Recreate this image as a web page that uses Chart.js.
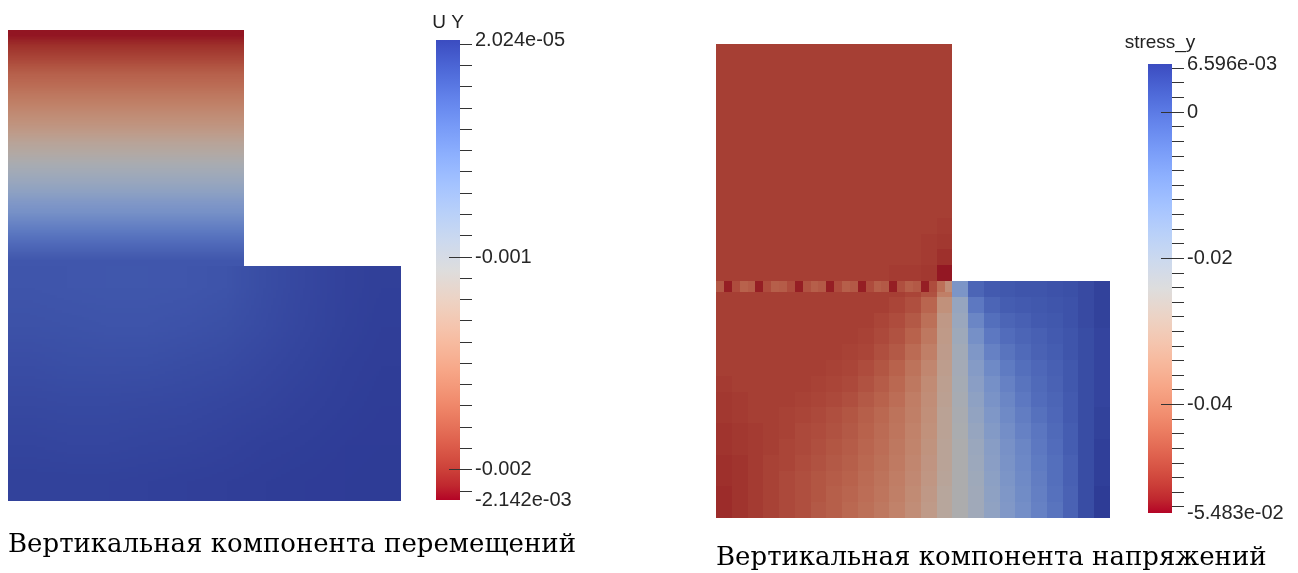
<!DOCTYPE html>
<html>
<head>
<meta charset="utf-8">
<script src="https://cdn.jsdelivr.net/npm/chart.js@4.4.1/dist/chart.umd.min.js"></script>
<style>
  html, body { margin: 0; padding: 0; background: #fff; }
  #page { position: relative; width: 1298px; height: 573px; overflow: hidden; }
  #page canvas { position: absolute; top: 0; }
  .caption {
    position: absolute;
    font-family: 'DejaVu Serif', serif;
    font-size: 26px;
    line-height: 26px;
    white-space: nowrap;
    color: #000;
  }
</style>
</head>
<body>
<div id="page">
  <canvas id="fieldUy" width="420" height="573" style="left:0px"></canvas>
  <canvas id="barUy" width="249" height="573" style="left:400px"></canvas>
  <canvas id="fieldSy" width="450" height="573" style="left:680px"></canvas>
  <canvas id="barSy" width="188" height="573" style="left:1110px"></canvas>
  <div class="caption" style="left:8px; top:530px">Вертикальная компонента перемещений</div>
  <div class="caption" style="left:716px; top:543px">Вертикальная компонента напряжений</div>
</div>
<script>
// ---- U Y (vertical displacement), values stored in units of 1e-4 ----
const UY_UNIT = 1e-4;
const uyRange = [-2.142e-3, 2.024e-5];
const uyRangeLabels = ['-2.142e-03', '2.024e-05'];
const uyMajorTicks = [-0.001, -0.002];
const uyMajorLabels = ['-0.001', '-0.002'];
const uyMinorStep = 1e-4;

// upper block (x 0..3, y 3..6): one value per row, top row first
const uyUpper = [
  -21.0, -20.1, -19.3, -18.4, -17.5, -16.9, -16.1, -15.4, -14.6, -13.9, -13.0, -12.0,
  -11.2, -10.3, -9.4, -8.6, -7.7, -6.7, -5.9, -4.9, -3.9, -3.0, -2.2, -1.5
];
// lower block (x 0..5, y 0..3): 6 rows x 10 columns, top row first
const uyLower = [
  [-1.42, -1.48, -1.53, -1.53, -1.48, -1.35, -0.88, -0.55, -0.23, -0.06],
  [-1.20, -1.27, -1.31, -1.31, -1.22, -1.05, -0.77, -0.45, -0.19, -0.01],
  [-0.92, -0.99, -1.01, -0.99, -0.88, -0.75, -0.53, -0.32, -0.10, 0.05],
  [-0.66, -0.70, -0.70, -0.66, -0.60, -0.49, -0.34, -0.17, -0.01, 0.09],
  [-0.40, -0.45, -0.45, -0.40, -0.34, -0.23, -0.12, -0.01, 0.07, 0.14],
  [-0.19, -0.19, -0.19, -0.15, -0.10, -0.04, 0.03, 0.09, 0.14, 0.18]
];

// ---- stress_y, values stored in units of 1e-3 ----
const SY_UNIT = 1e-3;
const syRange = [-5.483e-2, 6.596e-3];
const syRangeLabels = ['-5.483e-02', '6.596e-03'];
const syMajorTicks = [0, -0.02, -0.04];
const syMajorLabels = ['0', '-0.02', '-0.04'];
const syMinorStep = 2e-3;

// upper block (x 0..3, y 3..6): 15 x 15 cells, top row first
const syUpper = [
  [-49, -49, -49, -49, -49, -49, -49, -49, -49, -49, -49, -49, -49, -49, -49],
  [-49, -49, -49, -49, -49, -49, -49, -49, -49, -49, -49, -49, -49, -49, -49],
  [-49, -49, -49, -49, -49, -49, -49, -49, -49, -49, -49, -49, -49, -49, -49],
  [-49, -49, -49, -49, -49, -49, -49, -49, -49, -49, -49, -49, -49, -49, -49],
  [-49, -49, -49, -49, -49, -49, -49, -49, -49, -49, -49, -49, -49, -49, -49],
  [-49, -49, -49, -49, -49, -49, -49, -49, -49, -49, -49, -49, -49, -49, -49],
  [-49, -49, -49, -49, -49, -49, -49, -49, -49, -49, -49, -49, -49, -49, -49],
  [-49, -49, -49, -49, -49, -49, -49, -49, -49, -49, -49, -49, -49, -49, -49],
  [-49, -49, -49, -49, -49, -49, -49, -49, -49, -49, -49, -49, -49, -49, -49],
  [-49, -49, -49, -49, -49, -49, -49, -49, -49, -49, -49, -49, -49, -49, -49],
  [-49, -49, -49, -49, -49, -49, -49, -49, -49, -49, -49, -49, -49, -49, -49],
  [-49, -49, -49, -49, -49, -49, -49, -49, -49, -49, -49, -49, -49, -49, -49.5],
  [-49, -49, -49, -49, -49, -49, -49, -49, -49, -49, -49, -49, -49, -49.5, -50],
  [-49, -49, -49, -49, -49, -49, -49, -49, -49, -49, -49, -49, -49, -49.5, -51],
  [-49, -49, -49, -49, -49, -49, -49, -49, -49, -49, -49, -49.5, -49.5, -50, -53.5]
];
// thin row of cells just under the step (x 0..3)
const sySeam = [
  -45, -53, -47, -43.5, -44.5, -53, -47, -44, -44.5, -47,
  -53, -46, -44, -45, -53, -47, -44, -45, -53, -47,
  -44, -45, -53, -46.5, -44, -45, -53, -47, -41, -35
];
// lower block (x 0..5, y 0..3): 15 rows x 25 columns, top row first
const syLower = [
  [-49, -49, -49, -49, -49, -49, -49, -49, -49, -49, -49, -49, -48, -46, -38, -12, -1, 1, 1.5, 2, 2, 2.5, 3, 4, 5.5],
  [-49, -49, -49, -49, -49, -49, -49, -49, -49, -49, -49, -48, -46.5, -43, -34, -18, -5, -1, 0.5, 1, 1.5, 2, 2.5, 4, 5.5],
  [-49, -49, -49, -49, -49, -49, -49, -49, -49, -49, -48, -47, -45, -41, -32, -19, -8, -3, -1, 0, 1, 1.5, 2.5, 4, 5.5],
  [-49, -49, -49, -49, -49, -49, -49, -49, -49, -48.5, -47.5, -46, -43.5, -39.5, -31.5, -20, -10.5, -5, -2.5, -1, 0, 1, 2, 3.5, 5],
  [-49, -49, -49, -49, -49, -49, -49, -49, -48.5, -48, -46.5, -45, -42, -38, -31, -21, -12.5, -7, -4, -2, -0.5, 0.5, 2, 3.5, 5],
  [-49, -49, -49, -49, -49, -49, -49, -48.5, -48, -47, -45.5, -43.5, -40.5, -36.5, -30.5, -21.5, -14, -9, -5.5, -3, -1.5, 0, 1.5, 3.5, 5],
  [-49.5, -49, -49, -49, -49, -49, -48.5, -48, -47.5, -46, -44.5, -42.5, -39.5, -35.5, -30, -22, -15, -10.5, -7, -4, -2, -0.5, 1.5, 3.5, 5],
  [-50, -49.5, -49, -49, -49, -48.5, -48, -47.5, -46.5, -45, -43.5, -41.5, -38.5, -35, -29.5, -22.5, -16, -11.5, -8, -5, -2.5, -1, 1, 3.5, 5],
  [-50, -49.5, -49, -49, -48.5, -48, -47.5, -46.5, -45.5, -44, -42.5, -40.5, -38, -34.5, -29, -23, -17, -12.5, -9, -6, -3.5, -1.5, 1, 3.5, 5.5],
  [-50.5, -50, -49.5, -49, -48.5, -47.5, -47, -46, -45, -43.5, -42, -40, -37.5, -34, -29, -23.5, -18, -13.5, -10, -7, -4.5, -2, 0.5, 3.5, 5.5],
  [-50.5, -50, -49.5, -49, -48, -47.5, -46.5, -45.5, -44.5, -43, -41.5, -39.5, -37, -33.5, -28.5, -24, -19, -14.5, -11, -8, -5, -2.5, 0.5, 3.5, 6],
  [-51, -50.5, -49.5, -48.5, -48, -47, -46, -45, -44, -42.5, -41, -39, -36.5, -33, -28.5, -24, -19.5, -15, -11.5, -8.5, -5.5, -3, 0, 3.5, 6],
  [-51, -50.5, -49.5, -48.5, -47.5, -46.5, -45.5, -44.5, -43.5, -42, -40.5, -38.5, -36, -32.5, -28, -24, -20, -15.5, -12, -9, -6, -3, 0, 3.5, 6],
  [-51.5, -50.5, -49.5, -48.5, -47.5, -46.5, -45.5, -44, -43, -41.5, -40, -38, -35.5, -32, -27.5, -24, -20.5, -16, -12.5, -9.5, -6.5, -3.5, -0.5, 3.5, 6.5],
  [-51.5, -50.5, -49.5, -48.5, -47.5, -46.5, -45, -44, -42.5, -41, -39.5, -37.5, -35, -31.5, -27.5, -24, -20.5, -16.5, -13, -10, -7, -4, -0.5, 3.5, 6.5]
];

// cool-to-warm diverging map, 33 evenly spaced stops (blue end first)
const coolWarm = [
  [59, 76, 192], [68, 90, 204], [77, 104, 215], [87, 117, 225], [98, 130, 234],
  [108, 142, 241], [119, 154, 247], [130, 165, 251], [141, 176, 254], [152, 185, 255],
  [163, 194, 255], [174, 201, 253], [184, 208, 249], [194, 213, 244], [204, 217, 238],
  [213, 219, 230], [221, 221, 221], [229, 216, 209], [236, 211, 197], [241, 204, 185],
  [245, 196, 173], [247, 187, 160], [247, 177, 148], [247, 166, 135], [244, 154, 123],
  [241, 141, 111], [236, 127, 99], [229, 112, 88], [222, 96, 77], [213, 80, 66],
  [203, 62, 56], [192, 40, 47], [180, 4, 38]
];
// surfaces are lit, so they come out darker than the legend bar
const SHADE = 0.78;

Chart.defaults.font.family = "'Liberation Sans', Arial, sans-serif";

function coolWarmAt(t) {
  t = Math.min(1, Math.max(0, t));
  const p = t * (coolWarm.length - 1);
  const i = Math.min(coolWarm.length - 2, Math.floor(p));
  const f = p - i;
  return coolWarm[i].map((c, k) => c + (coolWarm[i + 1][k] - c) * f);
}

function litColor(t) {
  const [r, g, b] = coolWarmAt(t).map(c => Math.round(c * SHADE));
  return `rgb(${r},${g},${b})`;
}

// one block of the mesh: flat cells, or a smoothly shaded image of the nodal values
function paintBlock(ctx, b, x, y, colorOf) {
  const rows = b.values.length;
  const cols = b.values[0].length;
  if (b.smooth) {
    // values go into a small bitmap (with a copied 1px rim) that the canvas scales up
    const off = document.createElement('canvas');
    off.width = cols + 2;
    off.height = rows + 2;
    const octx = off.getContext('2d');
    for (let r = -1; r <= rows; r++) {
      for (let c = -1; c <= cols; c++) {
        const rr = Math.min(rows - 1, Math.max(0, r));
        const cc = Math.min(cols - 1, Math.max(0, c));
        octx.fillStyle = colorOf(b.values[rr][cc]);
        octx.fillRect(c + 1, r + 1, 1, 1);
      }
    }
    const x0 = Math.round(x.getPixelForValue(b.left));
    const x1 = Math.round(x.getPixelForValue(b.left + cols * b.dx));
    const y0 = Math.round(y.getPixelForValue(b.top));
    const y1 = Math.round(y.getPixelForValue(b.top - rows * b.dy));
    ctx.imageSmoothingEnabled = true;
    ctx.imageSmoothingQuality = 'low';
    ctx.drawImage(off, 1, 1, cols, rows, x0, y0, x1 - x0, y1 - y0);
    return;
  }
  b.values.forEach((row, r) => {
    const y0 = Math.round(y.getPixelForValue(b.top - r * b.dy));
    const y1 = Math.round(y.getPixelForValue(b.top - (r + 1) * b.dy));
    row.forEach((v, c) => {
      const x0 = Math.round(x.getPixelForValue(b.left + c * b.dx));
      const x1 = Math.round(x.getPixelForValue(b.left + (c + 1) * b.dx));
      ctx.fillStyle = colorOf(v);
      ctx.fillRect(x0, y0, x1 - x0, y1 - y0);
    });
  });
}

// paints every block of a field through the chart's x/y scales
function fieldLayer(field) {
  return {
    id: 'fieldLayer',
    beforeDatasetsDraw(chart) {
      const {ctx, scales: {x, y}} = chart;
      const [vmin, vmax] = field.range;
      const colorOf = v => litColor((vmax - v * field.unit) / (vmax - vmin));
      ctx.save();
      field.blocks.forEach(b => paintBlock(ctx, b, x, y, colorOf));
      ctx.restore();
    }
  };
}

function fieldChart(id, padding, field) {
  return new Chart(document.getElementById(id), {
    type: 'scatter',
    data: {datasets: []},
    options: {
      responsive: false,
      animation: false,
      layout: {padding},
      plugins: {legend: {display: false}, tooltip: {enabled: false}},
      scales: {
        x: {type: 'linear', min: 0, max: 5, display: false},
        y: {type: 'linear', min: 0, max: 6, display: false}
      }
    },
    plugins: [fieldLayer(field)]
  });
}

// legend title and the long marks on labelled ticks
function barExtras(bar) {
  return {
    id: 'barExtras',
    afterDatasetsDraw(chart) {
      const {ctx, chartArea: a, scales: {y}} = chart;
      ctx.save();
      ctx.strokeStyle = '#333';
      ctx.lineWidth = 1;
      bar.majors.forEach(m => {
        const py = Math.round(y.getPixelForValue(m) - 0.5) + 0.5;
        ctx.beginPath();
        ctx.moveTo(a.left + 13, py);
        ctx.lineTo(a.right, py);
        ctx.stroke();
      });
      ctx.fillStyle = '#222';
      ctx.font = "19px 'Liberation Sans', Arial, sans-serif";
      ctx.textAlign = 'center';
      ctx.textBaseline = 'alphabetic';
      ctx.fillText(bar.title, (a.left + a.right) / 2, a.top - bar.titleGap);
      ctx.restore();
    }
  };
}

function barFill(c) {
  const area = c.chart.chartArea;
  if (!area) return '#ddd';
  const g = c.chart.ctx.createLinearGradient(0, area.top, 0, area.bottom);
  coolWarm.forEach((rgb, i) => g.addColorStop(i / (coolWarm.length - 1), `rgb(${rgb.join(',')})`));
  return g;
}

function colorBar(id, padding, bar) {
  const [vmin, vmax] = bar.range;
  const near = (a, b) => Math.abs(a - b) < bar.step * 1e-3;
  const minor = [];
  for (let i = Math.ceil(vmin / bar.step - 1e-6); i <= Math.floor(vmax / bar.step + 1e-6); i++) {
    minor.push(i * bar.step);
  }
  const allTicks = minor.concat(bar.range).sort((a, b) => a - b);
  const isEnd = v => bar.range.some(r => near(r, v));
  const labelFor = v => {
    let i = bar.range.findIndex(r => near(r, v));
    if (i >= 0) return bar.rangeLabels[i];
    i = bar.majors.findIndex(m => near(m, v));
    return i >= 0 ? bar.majorLabels[i] : '';
  };
  return new Chart(document.getElementById(id), {
    type: 'bar',
    data: {
      labels: [bar.title],
      datasets: [{
        data: [[vmin, vmax]],
        backgroundColor: barFill,
        borderWidth: 0,
        barPercentage: 1,
        categoryPercentage: 1
      }]
    },
    options: {
      responsive: false,
      animation: false,
      layout: {padding},
      plugins: {legend: {display: false}, tooltip: {enabled: false}},
      scales: {
        x: {display: false},
        y: {
          position: 'right',
          min: vmin,
          max: vmax,
          afterBuildTicks: s => { s.ticks = allTicks.map(value => ({value})); },
          afterFit: s => { s.width = 120; },
          border: {display: false},
          grid: {
            drawOnChartArea: false,
            tickLength: 12,
            tickWidth: 1,
            tickColor: c => (c.tick && isEnd(c.tick.value)) ? 'rgba(0,0,0,0)' : '#333'
          },
          ticks: {
            autoSkip: false,
            padding: 3,
            color: '#262626',
            font: {size: 20},
            callback: v => labelFor(v)
          }
        }
      }
    },
    plugins: [barExtras(bar)]
  });
}

fieldChart('fieldUy', {left: 8, right: 19, top: 30, bottom: 72}, {
  range: uyRange,
  unit: UY_UNIT,
  blocks: [
    {values: uyUpper.map(v => [v]), left: 0, top: 6, dx: 3, dy: 0.125, smooth: true},
    {values: uyLower, left: 0, top: 3, dx: 0.5, dy: 0.5, smooth: true}
  ]
});

colorBar('barUy', {left: 36, right: 69, top: 40, bottom: 73}, {
  title: 'U Y', titleGap: 12,
  range: uyRange, rangeLabels: uyRangeLabels,
  majors: uyMajorTicks, majorLabels: uyMajorLabels, step: uyMinorStep
});

fieldChart('fieldSy', {left: 36, right: 20, top: 44, bottom: 55}, {
  range: syRange,
  unit: SY_UNIT,
  blocks: [
    {values: syUpper, left: 0, top: 6, dx: 0.2, dy: 0.2},
    {values: syLower, left: 0, top: 3, dx: 0.2, dy: 0.2},
    {values: [sySeam], left: 0, top: 3, dx: 0.1, dy: 0.14}
  ]
});

colorBar('barSy', {left: 38, right: 6, top: 64, bottom: 60}, {
  title: 'stress_y', titleGap: 16,
  range: syRange, rangeLabels: syRangeLabels,
  majors: syMajorTicks, majorLabels: syMajorLabels, step: syMinorStep
});
</script>
</body>
</html>
